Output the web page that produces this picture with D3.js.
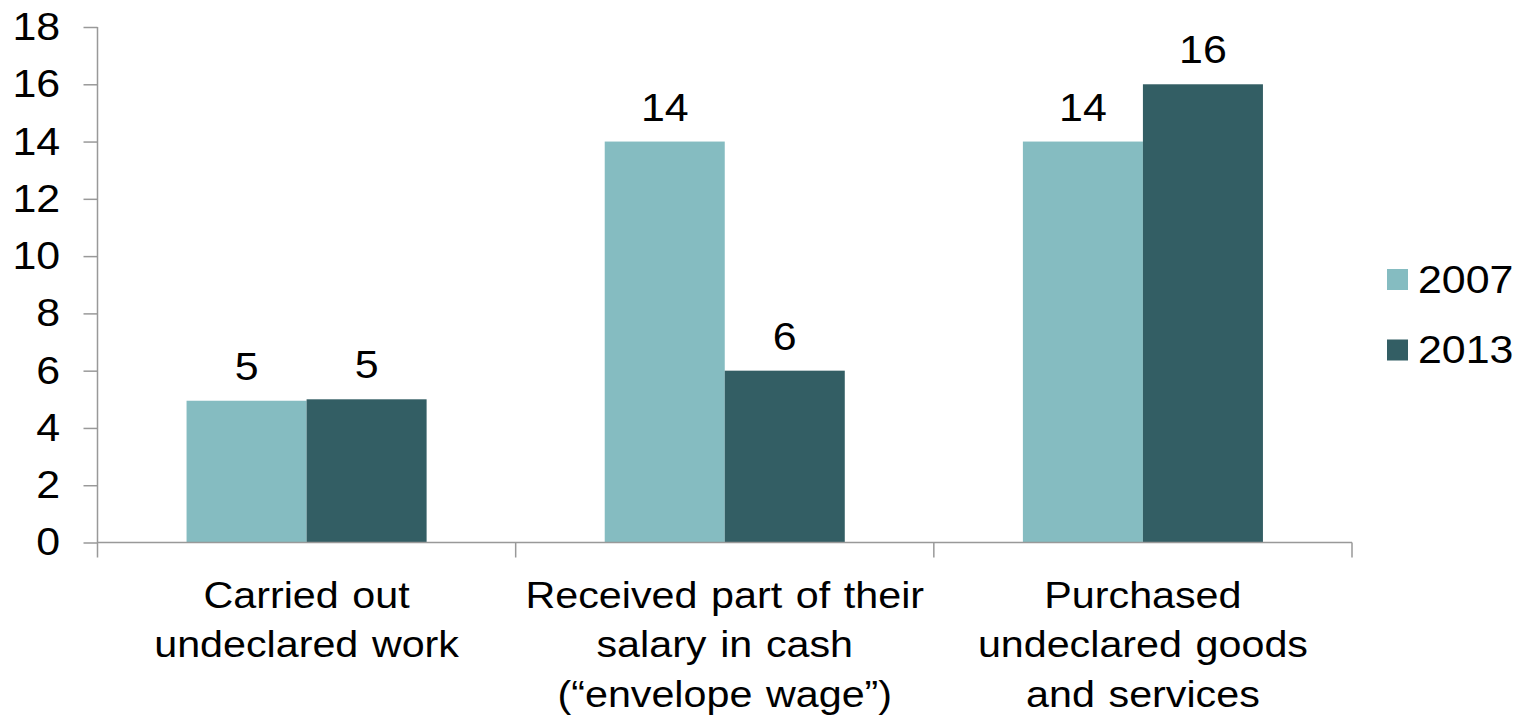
<!DOCTYPE html>
<html>
<head>
<meta charset="utf-8">
<script src="https://cdn.jsdelivr.net/npm/d3@7"></script>
<style>
  body { margin: 0; background: #fff; }
  svg text { font-family: "Liberation Sans", Arial, sans-serif; fill: #000; }
</style>
</head>
<body>
<svg width="1520" height="715"></svg>
<script>
var categories = [
    ["Carried out", "undeclared work"],
    ["Received part of their", "salary in cash", "(\u201Cenvelope wage\u201D)"],
    ["Purchased", "undeclared goods", "and services"]
];
var years = ["2007", "2013"];
var values2007 = [4.95, 14, 14];
var values2013 = [5, 6, 16];
var labels2007 = ["5", "14", "14"];
var labels2013 = ["5", "6", "16"];
var yTicks = [0, 2, 4, 6, 8, 10, 12, 14, 16, 18];
var colors = ["#85bcc1", "#335e64"];

var svg = d3.select('svg');
var plotLeft = 97.5, plotRight = 1352, plotTop = 27, plotBottom = 542.5;
var stretch = "scale(1.1,1)"; // the source text is a little wider than Arial

var x = d3.scaleBand()
    .domain(d3.range(categories.length))
    .range([plotLeft, plotRight])
    .padding(0);

var xs = d3.scaleBand()
    .domain(years)
    .range([0, x.bandwidth()])
    .paddingInner(0)
    .paddingOuter(0.742);

var y = d3.scaleLinear()
    .domain([0, 18])
    .range([plotBottom, plotTop]);

var items = [];
categories.forEach(function(c, i) {
    items.push({ cat: i, year: "2007", value: values2007[i], label: labels2007[i] });
    items.push({ cat: i, year: "2013", value: values2013[i], label: labels2013[i] });
});

// bars
svg.selectAll('rect.bar')
    .data(items).enter()
    .append('rect')
    .attr('class', 'bar')
    .attr('x', function(d) { return x(d.cat) + xs(d.year); })
    .attr('width', xs.bandwidth())
    .attr('y', function(d) { return y(d.value); })
    .attr('height', function(d) { return y(0) - y(d.value); })
    .attr('fill', function(d) { return colors[years.indexOf(d.year)]; });

// value labels
svg.selectAll('text.val')
    .data(items).enter()
    .append('text')
    .attr('class', 'val')
    .attr('transform', function(d) {
        return "translate(" + (x(d.cat) + xs(d.year) + xs.bandwidth() / 2) + "," + (y(d.value) - 21) + ") " + stretch;
    })
    .attr('text-anchor', 'middle')
    .style('font-size', '39px')
    .text(function(d) { return d.label; });

// y axis
var yAxis = d3.axisLeft(y).tickValues(yTicks).tickSize(14).tickPadding(20);
var gy = svg.append("g")
    .attr("class", "y axis")
    .attr("transform", "translate(" + plotLeft + ",0)")
    .call(yAxis);
gy.select('.domain').remove();
gy.selectAll('line').attr('stroke', '#999').attr('stroke-width', 1.5);
gy.selectAll('text').style('font-size', '39px').attr('fill', '#000').attr('transform', stretch);
gy.append('line')
    .attr('x1', 0).attr('x2', 0)
    .attr('y1', y(18)).attr('y2', plotBottom + 15)
    .attr('stroke', '#999').attr('stroke-width', 1.5);

// x axis baseline and category ticks
svg.append('line')
    .attr('x1', plotLeft).attr('x2', plotRight)
    .attr('y1', plotBottom).attr('y2', plotBottom)
    .attr('stroke', '#999').attr('stroke-width', 1.5);
svg.selectAll('line.xtick')
    .data(d3.range(1, categories.length + 1)).enter()
    .append('line')
    .attr('class', 'xtick')
    .attr('x1', function(i) { return i < categories.length ? x(i) : plotRight; })
    .attr('x2', function(i) { return i < categories.length ? x(i) : plotRight; })
    .attr('y1', plotBottom).attr('y2', plotBottom + 15)
    .attr('stroke', '#999').attr('stroke-width', 1.5);

// category labels
svg.selectAll('text.cat')
    .data(categories).enter()
    .append('text')
    .attr('class', 'cat')
    .attr('text-anchor', 'middle')
    .attr('transform', function(lines, i) {
        return "translate(" + (x(i) + x.bandwidth() / 2) + ",608) " + stretch;
    })
    .style('font-size', '37.5px')
    .style('word-spacing', '2px')
    .each(function(lines) {
        d3.select(this).selectAll('tspan')
            .data(lines).enter()
            .append('tspan')
            .attr('x', 0)
            .attr('y', function(l, j) { return j * 49.5; })
            .text(function(l) { return l; });
    });

// legend
var legend = svg.selectAll('g.legend')
    .data(years).enter()
    .append('g')
    .attr('class', 'legend')
    .attr('transform', function(d, i) { return "translate(1387," + (269 + i * 70.5) + ")"; });
legend.append('rect')
    .attr('width', 21).attr('height', 21)
    .attr('fill', function(d, i) { return colors[i]; });
legend.append('text')
    .attr('transform', "translate(31,23.5) " + stretch)
    .style('font-size', '39px')
    .text(function(d) { return d; });
</script>
</body>
</html>
